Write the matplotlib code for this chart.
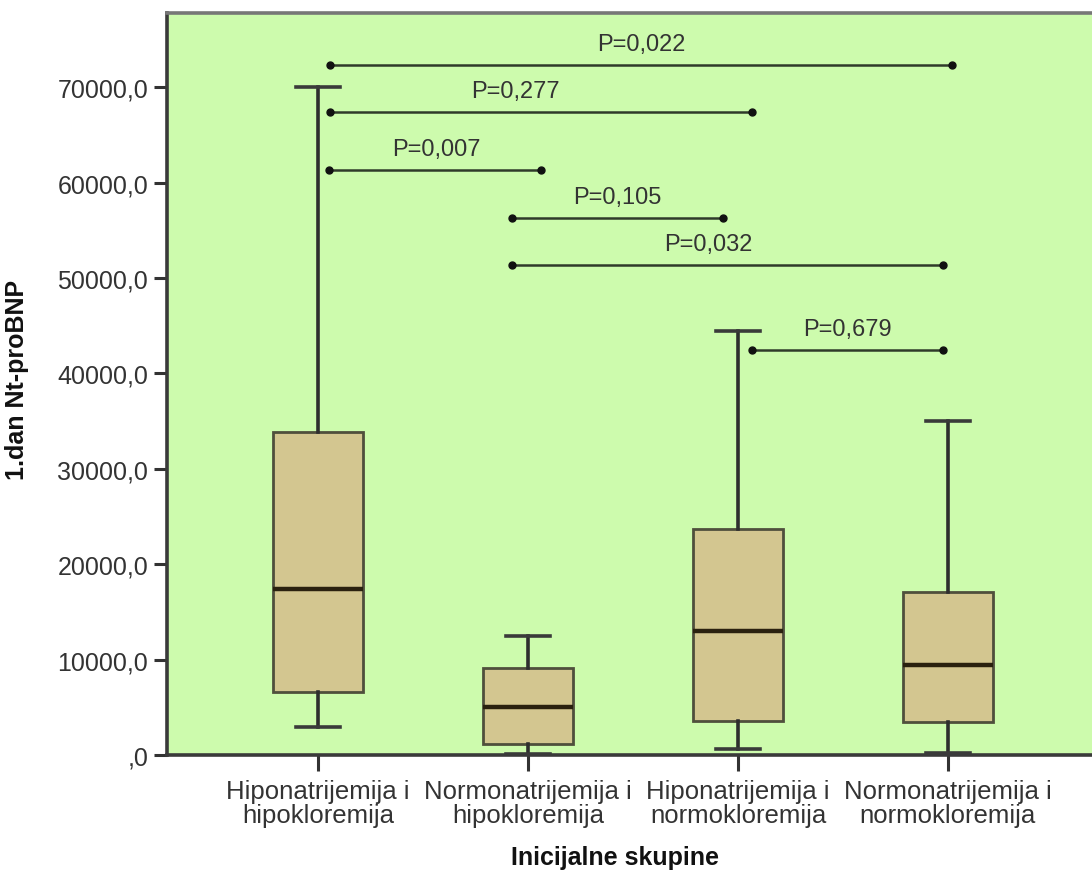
import matplotlib
matplotlib.use('Agg')
import matplotlib.pyplot as plt
from matplotlib.ticker import FixedLocator, FixedFormatter

plt.rcParams['font.family'] = ['Liberation Sans', 'DejaVu Sans']

# --- data ---
categories = ['Hiponatrijemija i\nhipokloremija', 'Normonatrijemija i\nhipokloremija',
              'Hiponatrijemija i\nnormokloremija', 'Normonatrijemija i\nnormokloremija']
whisker_low = [2950, 100, 630, 210]
q1 = [6600, 1150, 3560, 3460]
medians = [17450, 5030, 13000, 9430]
q3 = [33860, 9120, 23690, 17090]
whisker_high = [70000, 12470, 44480, 35050]

y_ticks = [0, 10000, 20000, 30000, 40000, 50000, 60000, 70000]
y_tick_labels = [',0', '10000,0', '20000,0', '30000,0', '40000,0', '50000,0', '60000,0', '70000,0']

# pairwise comparisons: label, line start x, line end x, line height, label centre x
p_labels = ['P=0,022', 'P=0,277', 'P=0,007', 'P=0,105', 'P=0,032', 'P=0,679']
p_x_start = [0.057, 0.057, 0.052, 0.925, 0.925, 2.065]
p_x_end = [3.019, 2.065, 1.063, 1.927, 2.976, 2.976]
p_y = [72330, 67380, 61300, 56270, 51350, 42440]
p_label_x = [1.540, 0.939, 0.563, 1.426, 1.860, 2.523]

GREEN = '#cdfbad'
BOX = '#d3c690'
EDGE = '#4f4f3c'
TEXT = '#333333'

fig = plt.figure(figsize=(10.92, 8.79), dpi=100)
ax = fig.add_axes([167 / 1092, 123 / 879, 925 / 1092, 742 / 879])
ax.set_facecolor(GREEN)

stats = []
for i in range(len(categories)):
    stats.append({'whislo': whisker_low[i], 'q1': q1[i], 'med': medians[i],
                  'q3': q3[i], 'whishi': whisker_high[i], 'fliers': []})

ax.bxp(stats, positions=range(len(categories)), widths=0.425, patch_artist=True,
       showfliers=False,
       boxprops=dict(facecolor=BOX, edgecolor=EDGE, linewidth=2.0),
       medianprops=dict(color='#2a210f', linewidth=3.2, solid_capstyle='butt'),
       whiskerprops=dict(color='#2e2e2e', linewidth=2.6),
       capprops=dict(color='#3a3a3a', linewidth=2.6))

# significance lines
for lab, xs, xe, yy, lx in zip(p_labels, p_x_start, p_x_end, p_y, p_label_x):
    ax.plot([xs, xe], [yy, yy], color='#2f3a2a', linewidth=1.8, zorder=4)
    ax.plot([xs, xe], [yy, yy], 'o', color='#111111', markersize=5, zorder=5)
    ax.annotate(lab, xy=(lx, yy), xytext=(0, 21), textcoords='offset pixels',
                ha='center', va='center', fontsize=17, color=TEXT)

ax.set_xlim(-0.719, 3.686)
ax.set_ylim(0, 77790)

ax.yaxis.set_major_locator(FixedLocator(y_ticks))
ax.yaxis.set_major_formatter(FixedFormatter(y_tick_labels))
ax.set_xticks(range(len(categories)))
ax.set_xticklabels(categories, fontsize=18.5, color=TEXT, linespacing=1.0)
ax.tick_params(axis='y', labelsize=18, labelcolor=TEXT, length=9.5, width=2.2,
               color='#333333', pad=4)
ax.tick_params(axis='x', length=11.5, width=2.2, color='#333333', pad=6)

for side in ['left', 'bottom']:
    ax.spines[side].set_color('#3a3a3a')
    ax.spines[side].set_linewidth(2.6)
ax.spines['top'].set_color('#777777')
ax.spines['top'].set_linewidth(2.6)
ax.spines['right'].set_visible(False)

fig.text(17 / 1092, (879 - 380) / 879, '1.dan Nt-proBNP', rotation=90,
         ha='center', va='center', fontsize=18, fontweight='bold', color='#111111')
fig.text(615 / 1092, (879 - 858) / 879, 'Inicijalne skupine',
         ha='center', va='center', fontsize=18, fontweight='bold', color='#111111')

fig.savefig('out.png', dpi=100, facecolor='white')
